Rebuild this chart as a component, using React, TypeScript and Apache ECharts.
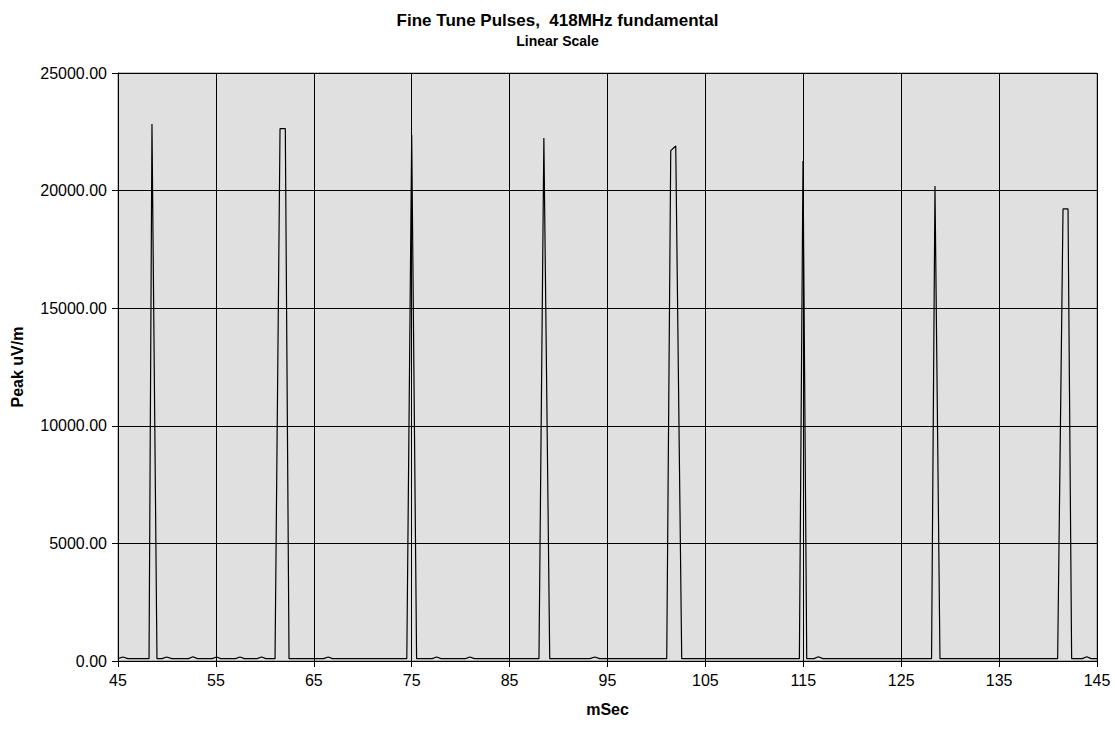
import React, { useEffect, useRef } from "react";
import * as echarts from "echarts";

const TITLE = "Fine Tune Pulses,  418MHz fundamental";
const SUBTITLE = "Linear Scale";
const X_NAME = "mSec";
const Y_NAME = "Peak uV/m";

const X_MIN = 45;
const X_MAX = 145;
const X_STEP = 10;
const Y_MIN = 0;
const Y_MAX = 25000;
const Y_STEP = 5000;

// vertex times (mSec) and peak field values (uV/m)
const times = [
  45.0, 45.5, 46.0, 48.17, 48.47, 48.98, 49.5, 49.97, 50.5, 52.2, 52.66, 53.1,
  54.6, 55.08, 55.5, 57.0, 57.46, 57.9, 59.2, 59.68, 60.1, 61.04, 61.55, 62.09,
  62.47, 66.0, 66.48, 66.9, 74.5, 75.0, 75.5, 77.1, 77.55, 78.0, 80.5, 80.95,
  81.4, 88.0, 88.5, 89.1, 93.2, 93.7, 94.2, 101.05, 101.46, 101.97, 102.58,
  114.6, 114.97, 115.35, 116.1, 116.53, 117.0, 128.1, 128.45, 128.96, 140.98,
  141.53, 142.04, 142.41, 143.5, 143.95, 144.4, 145.0,
];
const values = [
  100, 170, 100, 100, 22830, 100, 100, 170, 100, 100, 180, 100,
  100, 170, 100, 100, 170, 100, 100, 170, 100, 100, 22634, 22634,
  100, 100, 170, 100, 100, 22365, 100, 100, 170, 100, 100, 170,
  100, 100, 22238, 100, 100, 170, 100, 100, 21697, 21898, 100,
  100, 21260, 100, 100, 180, 100, 100, 20197, 100, 100,
  19219, 19219, 100, 100, 180, 100, 100,
];

const FONT = "'Liberation Sans', Arial, sans-serif";

export default function App() {
  const ref = useRef<HTMLDivElement>(null);
  useEffect(() => {
    document.body.style.margin = "0";
    document.body.style.overflow = "hidden";
    if (!ref.current) return;
    const chart = echarts.init(ref.current, undefined, { renderer: "svg" });
    // x plotted as offset from X_MIN so ticks start exactly at X_MIN
    const data = times.map((t, i) => [t - X_MIN, values[i]]);
    chart.setOption({
      animation: false,
      backgroundColor: "#ffffff",
      textStyle: { fontFamily: FONT },
      title: [
        {
          text: TITLE,
          left: "center",
          top: 7,
          textStyle: { fontFamily: FONT, fontSize: 17, fontWeight: "bold", color: "#000" },
        },
        {
          text: SUBTITLE,
          left: "center",
          top: 29,
          textStyle: { fontFamily: FONT, fontSize: 14, fontWeight: "bold", color: "#000" },
        },
      ],
      grid: {
        left: 118,
        right: 18,
        top: 73,
        bottom: 74,
        containLabel: false,
        outerBoundsMode: "none",
        show: true,
        backgroundColor: "#e0e0e0",
        borderColor: "#808080",
        borderWidth: 1,
      },
      xAxis: {
        type: "value",
        min: 0,
        max: X_MAX - X_MIN,
        interval: X_STEP,
        name: X_NAME,
        nameLocation: "middle",
        nameGap: 40,
        nameTextStyle: { fontFamily: FONT, fontSize: 16, fontWeight: "bold", color: "#000" },
        axisLine: { show: true, onZero: false, lineStyle: { color: "#000", width: 1 } },
        axisTick: { show: true, inside: false, length: 6, lineStyle: { color: "#000" } },
        axisLabel: {
          fontFamily: FONT,
          fontSize: 16,
          color: "#000",
          margin: 11,
          formatter: (v: number) => String(v + X_MIN),
        },
        splitLine: { show: true, lineStyle: { color: "#000", width: 1 } },
      },
      yAxis: {
        type: "value",
        min: Y_MIN,
        max: Y_MAX,
        interval: Y_STEP,
        name: Y_NAME,
        nameLocation: "middle",
        nameGap: 93,
        nameRotate: 90,
        nameTextStyle: { fontFamily: FONT, fontSize: 16, fontWeight: "bold", color: "#000" },
        axisLine: { show: true, lineStyle: { color: "#000", width: 1 } },
        axisTick: { show: true, length: 6, lineStyle: { color: "#000" } },
        axisLabel: {
          fontFamily: FONT,
          fontSize: 16,
          color: "#000",
          margin: 11,
          formatter: (v: number) => v.toFixed(2),
        },
        splitLine: { show: true, lineStyle: { color: "#000", width: 1 } },
      },
      series: [
        {
          type: "line",
          data,
          showSymbol: false,
          symbol: "none",
          lineStyle: { color: "#000", width: 1.2 },
        },
      ],
    });
    return () => chart.dispose();
  }, []);
  return <div ref={ref} style={{ width: 1115, height: 735 }} />;
}
